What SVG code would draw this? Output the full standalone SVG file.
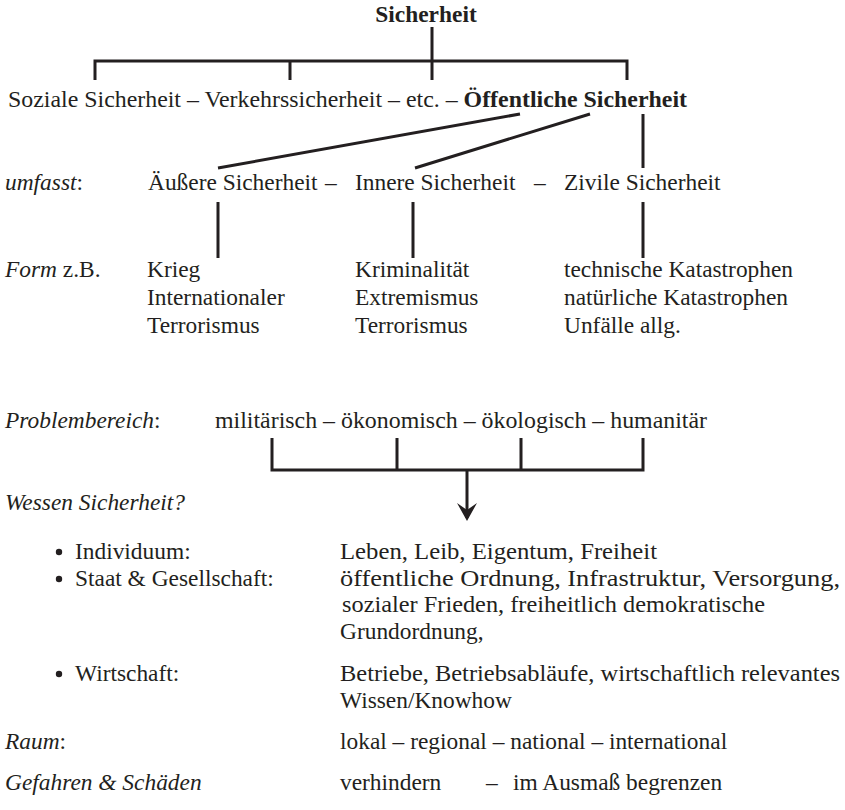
<svg xmlns="http://www.w3.org/2000/svg" width="845" height="810" viewBox="0 0 845 810">
<style>
text{font-family:"Liberation Serif","Times New Roman",serif;font-size:23.4px;fill:#231f20}
.b{font-weight:bold}
.i{font-style:italic}
.n{font-style:normal}
.ln{stroke:#231f20;stroke-width:3;fill:none}
</style>
<defs>
<marker id="ah" viewBox="0 0 18 20" refX="15" refY="10" markerWidth="18" markerHeight="20" markerUnits="userSpaceOnUse" orient="auto">
<path d="M0,0 L18,10 L0,20 L7,10 Z" fill="#231f20"/>
</marker>
</defs>
<rect width="845" height="810" fill="#fff"/>
<g id="connectors">
<path class="ln" d="M432,27 V61 M95,80 V61 H627 V80 M290,61 V80 M432,61 V80"/>
<path class="ln" d="M520,114 L218,168 M590,114 L415,168 M643,114 V168"/>
<path class="ln" d="M218,202 V258 M413,202 V258 M643,202 V258"/>
<path class="ln" d="M272,438 V470 H643 V438 M397,438 V470 M521,438 V470"/>
<path class="ln" d="M467,470 V518" marker-end="url(#ah)"/>
</g>
<g id="n-sicherheit"><text class="b" x="426" y="22" text-anchor="middle">Sicherheit</text></g>
<g id="n-row1"><text x="8" y="107" textLength="679" lengthAdjust="spacingAndGlyphs">Soziale Sicherheit  – Verkehrssicherheit – etc. – <tspan class="b">Öffentliche Sicherheit</tspan></text></g>
<g id="n-umfasst"><text class="i" x="5" y="190">umfasst<tspan class="n">:</tspan></text>
<text x="148" y="190">Äußere Sicherheit</text><text x="325" y="190">–</text>
<text x="355" y="190">Innere Sicherheit</text><text x="534" y="190">–</text>
<text x="564" y="190">Zivile Sicherheit</text></g>
<g id="n-form"><text x="5" y="277"><tspan class="i">Form</tspan> z.B.</text>
<text x="147" y="277">Krieg</text><text x="147" y="305">Internationaler</text><text x="147" y="333">Terrorismus</text>
<text x="355" y="277">Kriminalität</text><text x="355" y="305">Extremismus</text><text x="355" y="333">Terrorismus</text>
<text x="564" y="277" textLength="229" lengthAdjust="spacingAndGlyphs">technische Katastrophen</text><text x="564" y="305" textLength="224" lengthAdjust="spacingAndGlyphs">natürliche Katastrophen</text><text x="564" y="333">Unfälle allg.</text></g>
<g id="n-problem"><text x="5" y="428"><tspan class="i">Problembereich</tspan>:</text>
<text x="215" y="428" textLength="492" lengthAdjust="spacingAndGlyphs">militärisch – ökonomisch – ökologisch – humanitär</text></g>
<g id="n-wessen"><text class="i" x="5" y="510">Wessen Sicherheit?</text>
<circle cx="59" cy="552" r="3.2" fill="#231f20"/><text x="75" y="559">Individuum:</text><text x="340" y="559" textLength="317" lengthAdjust="spacingAndGlyphs">Leben, Leib, Eigentum, Freiheit</text>
<circle cx="59" cy="579" r="3.2" fill="#231f20"/><text x="75" y="586">Staat &amp; Gesellschaft:</text><text x="340" y="586" textLength="500" lengthAdjust="spacingAndGlyphs">öffentliche Ordnung, Infrastruktur, Versorgung,</text>
<text x="342" y="612" textLength="423" lengthAdjust="spacingAndGlyphs">sozialer Frieden, freiheitlich demokratische</text><text x="340" y="639">Grundordnung,</text>
<circle cx="59" cy="674" r="3.2" fill="#231f20"/><text x="75" y="681">Wirtschaft:</text><text x="340" y="681" textLength="500" lengthAdjust="spacingAndGlyphs">Betriebe, Betriebsabläufe, wirtschaftlich relevantes</text>
<text x="340" y="708">Wissen/Knowhow</text></g>
<g id="n-raum"><text x="5" y="749"><tspan class="i">Raum</tspan>:</text><text x="340" y="749">lokal – regional – national – international</text></g>
<g id="n-gefahren"><text class="i" x="5" y="790">Gefahren &amp; Schäden</text><text x="340" y="790">verhindern</text><text x="486" y="790">–</text><text x="513" y="790">im Ausmaß begrenzen</text></g>
</svg>
